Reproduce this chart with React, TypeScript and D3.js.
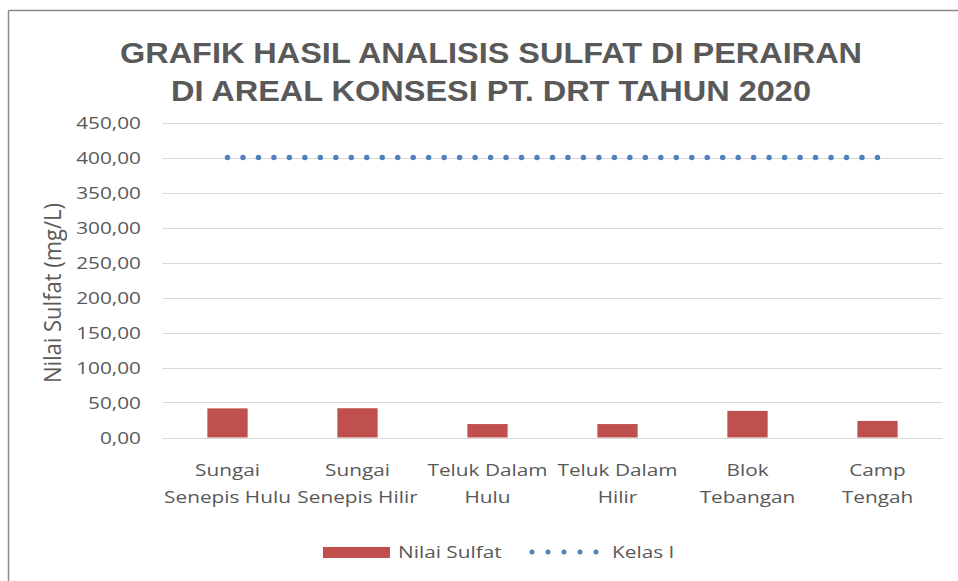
import React from "react";
import * as d3 from "d3";

const categories: string[][] = [
  ["Sungai", "Senepis Hulu"],
  ["Sungai", "Senepis Hilir"],
  ["Teluk Dalam", "Hulu"],
  ["Teluk Dalam", "Hilir"],
  ["Blok", "Tebangan"],
  ["Camp", "Tengah"],
];
const sulfatValues: number[] = [41.6, 41.8, 19.2, 19.2, 38.0, 23.7];
const kelasIValues: number[] = [400, 400, 400, 400, 400, 400];
const yTicks: number[] = [0, 50, 100, 150, 200, 250, 300, 350, 400, 450];
const titleLines: string[] = [
  "GRAFIK HASIL ANALISIS SULFAT DI PERAIRAN",
  "DI AREAL KONSESI PT. DRT TAHUN 2020",
];
const yAxisTitle = "Nilai Sulfat (mg/L)";
const legendLabels: string[] = ["Nilai Sulfat", "Kelas I"];

const W = 958;
const H = 581;
const TEXT = "#595959";
const RED = "#C0504D";
const BLUE = "#4F81BD";
const FONT = "'Open Sans', 'Noto Sans', sans-serif";
const SX = 1.3;

function SText(props: {
  x: number;
  y: number;
  anchor?: "start" | "middle" | "end";
  size?: number;
  children: React.ReactNode;
}) {
  const { x, y, anchor = "start", size = 16, children } = props;
  return (
    <g transform={`translate(${x},${y}) scale(${SX},1)`}>
      <text
        x={0}
        y={0}
        textAnchor={anchor}
        dominantBaseline="central"
        fontFamily={FONT}
        fontSize={size}
        fill={TEXT}
      >
        {children}
      </text>
    </g>
  );
}

export default function App() {
  const ids = categories.map((_, i) => String(i));
  const x = d3.scaleBand<string>().domain(ids).range([162.5, 942.5]).padding(0);
  const y = d3.scaleLinear().domain([0, 450]).range([437.5, 122.5]);
  const barW = x.bandwidth() * 0.31;
  const cx = (i: number) => (x(String(i)) as number) + x.bandwidth() / 2;

  const fmt = (v: number) => v.toFixed(2).replace(".", ",");

  const line = d3
    .line<number>()
    .x((_, i) => cx(i))
    .y((d) => y(d));

  const lineLen = cx(kelasIValues.length - 1) - cx(0);
  const dotGap = lineLen / 42 - 0.001;

  return (
    <svg
      width={W}
      height={H}
      style={{ position: "absolute", left: 0, top: 0, background: "#fff" }}
    >
      <rect x={0} y={0} width={W} height={H} fill="#fff" />
      {/* frame */}
      <line x1={8.5} y1={10.5} x2={W} y2={10.5} stroke="#8a8a8a" strokeWidth={1.5} />
      <line x1={8.5} y1={10.5} x2={8.5} y2={H} stroke="#8a8a8a" strokeWidth={1.5} />

      {/* title */}
      {titleLines.map((t, i) => (
        <text
          key={t}
          x={491}
          y={i === 0 ? 63 : 101}
          textAnchor="middle"
          fontFamily="'Liberation Sans', Arial, sans-serif"
          fontWeight="bold"
          fontSize={29}
          fill={TEXT}
          textLength={i === 0 ? 742 : 640}
          lengthAdjust="spacingAndGlyphs"
        >
          {t}
        </text>
      ))}

      {/* gridlines */}
      {yTicks.map((t) => (
        <line
          key={t}
          x1={162.5}
          x2={942.5}
          y1={Math.round(y(t)) + 0.5}
          y2={Math.round(y(t)) + 0.5}
          stroke="#D9D9D9"
          strokeWidth={1}
        />
      ))}

      {/* y tick labels */}
      {yTicks.map((t) => (
        <SText key={t} x={141} y={y(t)} anchor="end">
          {fmt(t)}
        </SText>
      ))}

      {/* y axis title */}
      <g transform={`translate(52,293) rotate(-90) scale(1,1.08)`}>
        <text
          x={0}
          y={0}
          textAnchor="middle"
          dominantBaseline="central"
          fontFamily={FONT}
          fontSize={22}
          fill={TEXT}
        >
          {yAxisTitle}
        </text>
      </g>

      {/* bars */}
      {sulfatValues.map((v, i) => (
        <rect
          key={i}
          x={cx(i) - barW / 2}
          y={y(v)}
          width={barW}
          height={y(0) - y(v)}
          fill={RED}
        />
      ))}

      {/* Kelas I line */}
      <path
        d={line(kelasIValues) || ""}
        fill="none"
        stroke={BLUE}
        strokeWidth={5.5}
        strokeLinecap="round"
        strokeDasharray={`0 ${dotGap}`}
      />

      {/* category labels */}
      {categories.map((lines, i) =>
        lines.map((l, j) => (
          <SText key={`${i}-${j}`} x={cx(i)} y={470 + j * 27} anchor="middle">
            {l}
          </SText>
        ))
      )}

      {/* legend */}
      <rect x={323} y={547} width={67} height={11} fill={RED} />
      <SText x={398} y={552}>{legendLabels[0]}</SText>
      <line
        x1={532}
        x2={596}
        y1={552}
        y2={552}
        stroke={BLUE}
        strokeWidth={5}
        strokeLinecap="round"
        strokeDasharray="0 15.99"
      />
      <SText x={612} y={552}>{legendLabels[1]}</SText>
    </svg>
  );
}
